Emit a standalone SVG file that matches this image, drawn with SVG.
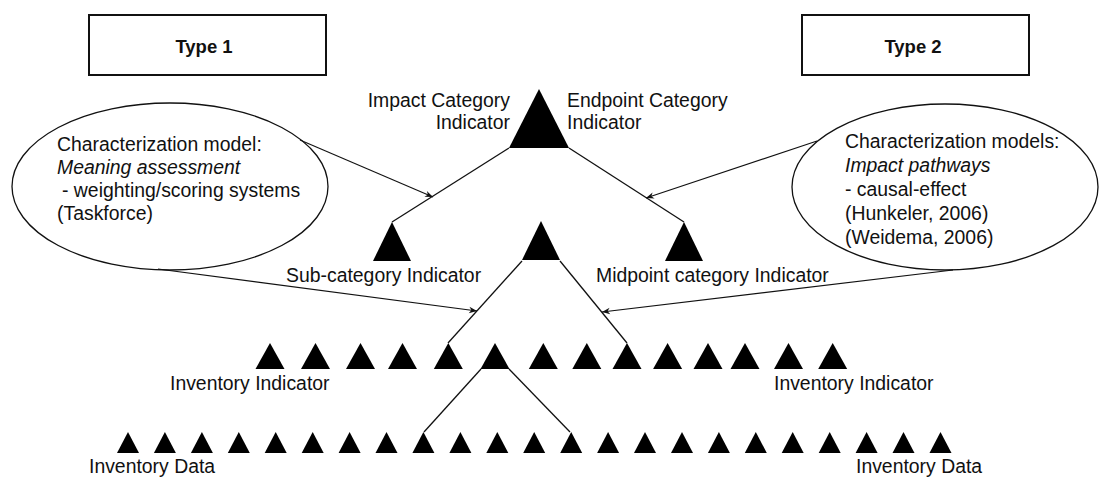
<svg xmlns="http://www.w3.org/2000/svg" xmlns:xlink="http://www.w3.org/1999/xlink" width="1100" height="477" viewBox="0 0 1100 477">
  <style>
    text { font-family: "Liberation Sans", Arial, Helvetica, sans-serif; font-size: 19.4px; fill: #111; }
    .type { font-size: 18.5px; font-weight: bold; text-anchor: middle; }
    .it { font-style: italic; }
    .end { text-anchor: end; }
    .box { fill: #fff; stroke: #111; stroke-width: 2; }
    .bubble { fill: #fff; stroke: #111; stroke-width: 1.3; }
    .tri { fill: #000; }
    .link { stroke: #111; stroke-width: 1.3; fill: none; }
    .arrow { stroke: #111; stroke-width: 1.1; fill: none; marker-end: url(#head); }
  </style>
  <defs>
    <marker id="head" viewBox="0 0 10 10" refX="10" refY="5" markerUnits="userSpaceOnUse" markerWidth="10" markerHeight="8" orient="auto">
      <path d="M0,1 L10,5 L0,9 L3,5 Z" fill="#111"/>
    </marker>
    <!-- apex-anchored triangle shapes -->
    <path id="tri-mid" d="M0,0 L19,39 L-19,39 Z"/>
    <path id="tri-ind" d="M0,0 L14.5,26 L-14.5,26 Z"/>
    <path id="tri-data" d="M0,0 L11,21 L-11,21 Z"/>
  </defs>

  <rect width="1100" height="477" fill="#fff"/>

  <!-- Type headers -->
  <g id="type1">
    <rect class="box" x="89" y="15" width="237" height="60"/>
    <text class="type" x="204" y="53">Type 1</text>
  </g>
  <g id="type2">
    <rect class="box" x="802" y="15" width="227" height="60"/>
    <text class="type" x="913" y="53">Type 2</text>
  </g>

  <!-- Characterization model bubbles -->
  <g id="model-type1">
    <ellipse class="bubble" cx="170" cy="186.5" rx="158" ry="83.5"/>
    <text x="57" y="151">Characterization model:</text>
    <text class="it" x="57" y="174">Meaning assessment</text>
    <text x="62" y="197">- weighting/scoring systems</text>
    <text x="57" y="220">(Taskforce)</text>
  </g>
  <g id="model-type2">
    <ellipse class="bubble" cx="945" cy="187" rx="153" ry="83"/>
    <text x="845" y="148">Characterization models:</text>
    <text class="it" x="845" y="172">Impact pathways</text>
    <text x="845" y="196">- causal-effect</text>
    <text x="845" y="220">(Hunkeler, 2006)</text>
    <text x="845" y="244">(Weidema, 2006)</text>
  </g>

  <!-- Connectors -->
  <g id="connectors">
    <line class="link" x1="509" y1="148" x2="392" y2="222"/>
    <line class="link" x1="569" y1="148" x2="684" y2="222"/>
    <line class="link" x1="522" y1="261" x2="448" y2="343"/>
    <line class="link" x1="560" y1="261" x2="627" y2="343"/>
    <line class="link" x1="481" y1="369" x2="424" y2="432"/>
    <line class="link" x1="509" y1="369" x2="570" y2="432"/>
    <line class="arrow" x1="300" y1="140" x2="433" y2="197"/>
    <line class="arrow" x1="158" y1="269" x2="477" y2="311"/>
    <line class="arrow" x1="817" y1="141" x2="646" y2="198"/>
    <line class="arrow" x1="953" y1="270" x2="602" y2="312"/>
  </g>

  <!-- Impact / endpoint category indicator -->
  <g id="endpoint-indicator">
    <polygon class="tri" points="539,89 569,148 509,148"/>
    <text class="end" x="510" y="107">Impact Category</text>
    <text class="end" x="510" y="129">Indicator</text>
    <text x="567" y="107">Endpoint Category</text>
    <text x="567" y="129">Indicator</text>
  </g>

  <!-- Middle level -->
  <g id="sub-category-indicator">
    <use href="#tri-mid" class="tri" x="392" y="222"/>
    <text x="286" y="282">Sub-category Indicator</text>
  </g>
  <g id="central-indicator">
    <use href="#tri-mid" class="tri" x="541" y="221"/>
  </g>
  <g id="midpoint-indicator">
    <use href="#tri-mid" class="tri" x="684" y="222"/>
    <text x="596" y="282">Midpoint category Indicator</text>
  </g>

  <!-- Inventory indicators -->
  <g id="inventory-indicators" class="tri">
    <use href="#tri-ind" x="270" y="343"/>
    <use href="#tri-ind" x="315.5" y="343"/>
    <use href="#tri-ind" x="360.5" y="343"/>
    <use href="#tri-ind" x="402.5" y="343"/>
    <use href="#tri-ind" x="448.3" y="343"/>
    <use href="#tri-ind" x="495" y="343"/>
    <use href="#tri-ind" x="543.3" y="343"/>
    <use href="#tri-ind" x="586.8" y="343"/>
    <use href="#tri-ind" x="627" y="343"/>
    <use href="#tri-ind" x="667.6" y="343"/>
    <use href="#tri-ind" x="708" y="343"/>
    <use href="#tri-ind" x="745" y="343"/>
    <use href="#tri-ind" x="788.5" y="343"/>
    <use href="#tri-ind" x="832.7" y="343"/>
  </g>
  <g id="inventory-indicator-labels">
    <text x="170" y="390">Inventory Indicator</text>
    <text x="774" y="390">Inventory Indicator</text>
  </g>

  <!-- Inventory data -->
  <g id="inventory-data" class="tri">
    <use href="#tri-data" x="128" y="432"/>
    <use href="#tri-data" x="164.9" y="432"/>
    <use href="#tri-data" x="201.9" y="432"/>
    <use href="#tri-data" x="238.8" y="432"/>
    <use href="#tri-data" x="275.7" y="432"/>
    <use href="#tri-data" x="312.7" y="432"/>
    <use href="#tri-data" x="349.6" y="432"/>
    <use href="#tri-data" x="386.5" y="432"/>
    <use href="#tri-data" x="423.4" y="432"/>
    <use href="#tri-data" x="460.4" y="432"/>
    <use href="#tri-data" x="497.3" y="432"/>
    <use href="#tri-data" x="534.2" y="432"/>
    <use href="#tri-data" x="571.2" y="432"/>
    <use href="#tri-data" x="608.1" y="432"/>
    <use href="#tri-data" x="645" y="432"/>
    <use href="#tri-data" x="682" y="432"/>
    <use href="#tri-data" x="718.9" y="432"/>
    <use href="#tri-data" x="755.8" y="432"/>
    <use href="#tri-data" x="792.7" y="432"/>
    <use href="#tri-data" x="829.7" y="432"/>
    <use href="#tri-data" x="866.6" y="432"/>
    <use href="#tri-data" x="903.5" y="432"/>
    <use href="#tri-data" x="940.5" y="432"/>
  </g>
  <g id="inventory-data-labels">
    <text x="89" y="473">Inventory Data</text>
    <text x="856" y="473">Inventory Data</text>
  </g>
</svg>
